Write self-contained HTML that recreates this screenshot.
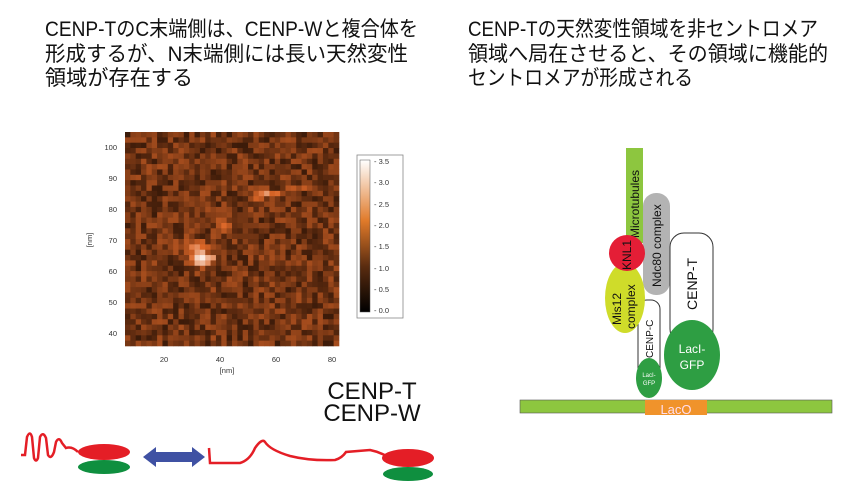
<!DOCTYPE html>
<html><head><meta charset="utf-8"><style>
html,body{margin:0;padding:0;background:#fff;}
svg{display:block;}
.jp{font-family:"Liberation Sans","Noto Sans CJK JP",sans-serif;font-size:21px;fill:#111;}
.ax{font-family:"Liberation Sans",sans-serif;font-size:7.5px;fill:#333;}
.lb{font-family:"Liberation Sans",sans-serif;fill:#111;}
</style></head><body>
<svg id="s" width="860" height="495" viewBox="0 0 860 495" xmlns="http://www.w3.org/2000/svg">
<text class="jp" x="45" y="36" textLength="373" lengthAdjust="spacingAndGlyphs">CENP-TのC末端側は、CENP-Wと複合体を</text>
<text class="jp" x="45" y="61" textLength="363" lengthAdjust="spacingAndGlyphs">形成するが、N末端側には長い天然変性</text>
<text class="jp" x="45" y="85" textLength="148" lengthAdjust="spacingAndGlyphs">領域が存在する</text>
<text class="jp" x="468" y="36" textLength="350" lengthAdjust="spacingAndGlyphs">CENP-Tの天然変性領域を非セントロメア</text>
<text class="jp" x="468" y="61" textLength="360" lengthAdjust="spacingAndGlyphs">領域へ局在させると、その領域に機能的</text>
<text class="jp" x="468" y="85" textLength="225" lengthAdjust="spacingAndGlyphs">セントロメアが形成される</text>

<!-- heatmap -->
<rect x="125" y="132" width="214" height="214" fill="#6b3a1c"/>
<g id="hm"></g>
<g class="ax" text-anchor="end">
<text x="117" y="150">100</text><text x="117" y="181">90</text><text x="117" y="212">80</text>
<text x="117" y="243">70</text><text x="117" y="274">60</text><text x="117" y="305">50</text><text x="117" y="336">40</text>
</g>
<g class="ax" text-anchor="middle">
<text x="164" y="362">20</text><text x="220" y="362">40</text><text x="276" y="362">60</text><text x="332" y="362">80</text>
<text x="227" y="373">[nm]</text>
<text x="92" y="240" transform="rotate(-90 92 240)">[nm]</text>
</g>
<rect x="357" y="155" width="46" height="163" fill="#fff" stroke="#888" stroke-width="0.8"/>
<defs><linearGradient id="cb" x1="0" y1="1" x2="0" y2="0">
<stop offset="0" stop-color="#000"/><stop offset="0.3" stop-color="#5a2c10"/><stop offset="0.6" stop-color="#e07a2a"/><stop offset="1" stop-color="#fff"/>
</linearGradient></defs>
<rect x="360" y="160" width="10" height="152" fill="url(#cb)" stroke="#555" stroke-width="0.5"/>
<g class="ax">
<text x="374" y="164">- 3.5</text><text x="374" y="185">- 3.0</text><text x="374" y="207">- 2.5</text>
<text x="374" y="228">- 2.0</text><text x="374" y="249">- 1.5</text><text x="374" y="271">- 1.0</text>
<text x="374" y="292">- 0.5</text><text x="374" y="313">- 0.0</text>
</g>

<!-- bottom left -->
<text class="lb" x="372" y="399" font-size="24" text-anchor="middle">CENP-T</text>
<text class="lb" x="372" y="421" font-size="24" text-anchor="middle">CENP-W</text>
<path d="M21,455 L25,455 L27,437 Q30,430 32,437 L34,458 Q36,463 38,458 L40,437 Q43,431 46,438 L48,455 Q51,460 54,452 L56,442 Q59,436 62,443 L66,448 Q72,446 78,452" fill="none" stroke="#e41e26" stroke-width="2.5"/>
<ellipse cx="104" cy="452" rx="26" ry="8" fill="#e41e26"/>
<ellipse cx="104" cy="467" rx="26" ry="7" fill="#0f8f3f"/>
<path d="M143,457 L156,447 L156,452 L192,452 L192,447 L205,457 L192,467 L192,462 L156,462 L156,467 Z" fill="#3f51a3"/>
<path d="M209,448 L210,463 L240,463 Q250,460 255,448 Q262,438 265,442 Q270,450 290,456 Q310,461 335,460 Q342,458 346,452 L370,450 Q380,452 390,458" fill="none" stroke="#e41e26" stroke-width="2.5"/>
<ellipse cx="408" cy="458" rx="26" ry="9" fill="#e41e26"/>
<ellipse cx="408" cy="474" rx="25" ry="7" fill="#0f8f3f"/>

<!-- right diagram -->
<rect x="520" y="400" width="312" height="13" fill="#8dc63f" stroke="#555" stroke-width="0.6"/>
<rect x="645" y="400" width="62" height="15" fill="#f0932b"/>
<text class="lb" x="676" y="414" font-size="13" text-anchor="middle" style="fill:#fde">LacO</text>
<rect x="626" y="148" width="17" height="95" fill="#8dc63f"/>
<text class="lb" x="639" y="238" font-size="12" transform="rotate(-90 639 238)">Microtubules</text>
<rect x="643" y="193" width="27" height="102" rx="13" fill="#b3b3b3"/>
<text class="lb" x="661" y="287" font-size="12" transform="rotate(-90 661 287)">Ndc80 complex</text>
<rect x="670" y="233" width="43" height="110" rx="14" fill="#fff" stroke="#333" stroke-width="1"/>
<text class="lb" x="697" y="310" font-size="14" transform="rotate(-90 697 310)">CENP-T</text>
<rect x="638" y="300" width="22" height="92" rx="9" fill="#fff" stroke="#333" stroke-width="1"/>
<text class="lb" x="653" y="358" font-size="10" transform="rotate(-90 653 358)">CENP-C</text>
<ellipse cx="625" cy="298" rx="20" ry="35" fill="#cfdc2a"/>
<text class="lb" x="621" y="325" font-size="12" transform="rotate(-90 621 325)">Mis12</text>
<text class="lb" x="635" y="329" font-size="12" transform="rotate(-90 635 329)">complex</text>
<circle cx="627" cy="253" r="18" fill="#e41e36"/>
<text class="lb" x="631" y="270" font-size="12" transform="rotate(-90 631 270)">KNL1</text>
<ellipse cx="692" cy="355" rx="28" ry="35" fill="#2e9e43"/>
<text class="lb" x="692" y="353" font-size="12" text-anchor="middle" style="fill:#fff">LacI-</text>
<text class="lb" x="692" y="369" font-size="12" text-anchor="middle" style="fill:#fff">GFP</text>
<ellipse cx="649" cy="378" rx="13" ry="20" fill="#2e9e43"/>
<text class="lb" x="649" y="377" font-size="6" text-anchor="middle" style="fill:#fff">LacI-</text>
<text class="lb" x="649" y="385" font-size="6" text-anchor="middle" style="fill:#fff">GFP</text>
</svg>
<script>
(function(){
var g=document.getElementById('hm'),seed=7;
function r(){seed=(seed*16807)%2147483647;return seed/2147483647;}
var n=40,c=214/n,h='';
var blobs=[[34,64,4,2,0.75],[31,68,5,2,0.35],[42,75,3,2,0.3],[58,85,5,1,0.35],[67,87,3,1,0.3],[54,83,5,3,0.15]];
for(var i=0;i<n;i++)for(var j=0;j<n;j++){
 var xn=8+i*(74/n),yn=104-j*(69/n);
 var v=0.12+r()*0.32;
 blobs.forEach(function(b){var dx=(xn-b[0])/b[2],dy=(yn-b[1])/b[3];v+=b[4]*Math.exp(-(dx*dx+dy*dy));});
 v=Math.min(1,v);var R,G,B;
 if(v<0.6){var t=v/0.6;R=20+t*200;G=8+t*95;B=2+t*38;}
 else{var t=(v-0.6)/0.4;R=220+t*35;G=103+t*150;B=40+t*210;}
 h+='<rect x="'+(125+i*c).toFixed(2)+'" y="'+(132+j*c).toFixed(2)+'" width="'+(c+0.3).toFixed(2)+'" height="'+(c+0.3).toFixed(2)+'" fill="rgb('+(R|0)+','+(G|0)+','+(B|0)+')"/>';
}
g.innerHTML=h;
})();
</script>
</body></html>
